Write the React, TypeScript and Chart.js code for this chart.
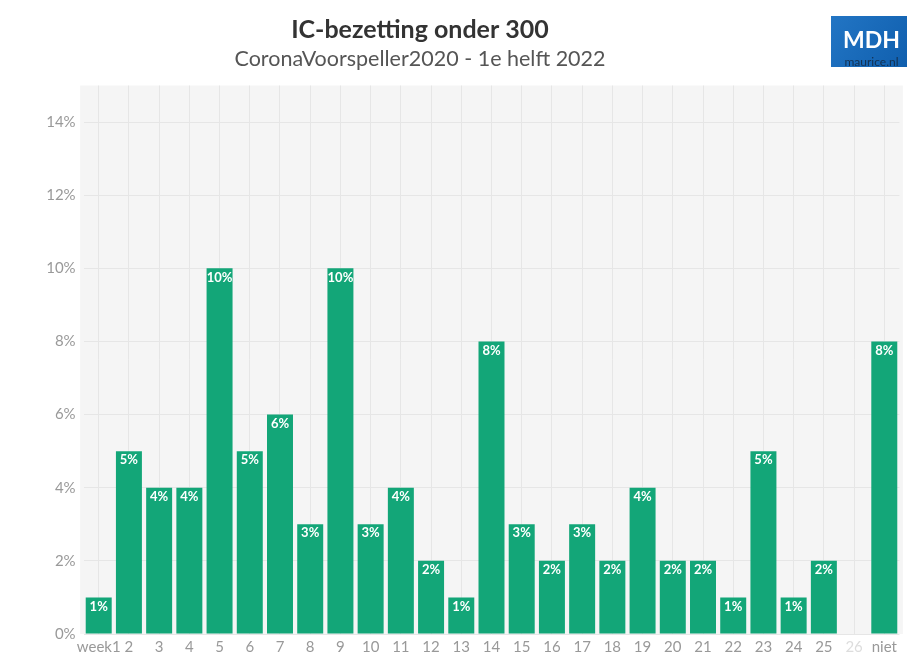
import React, { useEffect, useRef } from "react";
import { Chart, registerables } from "chart.js";

Chart.register(...registerables);

const categories: string[] = [
  "week1", "2", "3", "4", "5", "6", "7", "8", "9", "10", "11", "12", "13",
  "14", "15", "16", "17", "18", "19", "20", "21", "22", "23", "24", "25", "26", "niet",
];
const values: number[] = [
  1, 5, 4, 4, 10, 5, 6, 3, 10, 3, 4, 2, 1, 8, 3, 2, 3, 2, 4, 2, 2, 1, 5, 1, 2, 0, 8,
];
const titleText = "IC-bezetting onder 300";
const subtitleText = "CoronaVoorspeller2020 - 1e helft 2022";
const logoMain = "MDH";
const logoSub = "maurice.nl";

const FONT = "Lato, 'Source Sans Pro', 'Noto Sans', sans-serif";
const BAR = "#13a678";

const decorPlugin = {
  id: "decor",
  beforeDraw(chart: any) {
    const { ctx, chartArea } = chart;
    ctx.save();
    ctx.fillStyle = "#f5f5f5";
    ctx.fillRect(chartArea.left - 3.5, chartArea.top, chartArea.right - chartArea.left + 7, chartArea.bottom - chartArea.top);
    ctx.restore();
  },
  afterDraw(chart: any) {
    const { ctx } = chart;
    ctx.save();
    ctx.textAlign = "center";
    ctx.textBaseline = "middle";
    ctx.fillStyle = "#333333";
    ctx.font = `bold 25px ${FONT}`;
    ctx.fillText(titleText, 420, 30);
    ctx.fillStyle = "#555555";
    ctx.font = `21.5px ${FONT}`;
    ctx.fillText(subtitleText, 420, 59);
    // logo
    const g = ctx.createLinearGradient(831, 16, 907, 67);
    g.addColorStop(0, "#2275c4");
    g.addColorStop(1, "#105fae");
    ctx.fillStyle = g;
    ctx.fillRect(831, 16, 76, 51);
    ctx.fillStyle = "#ffffff";
    ctx.font = `bold 23px ${FONT}`;
    ctx.fillText(logoMain, 871.5, 41);
    ctx.fillStyle = "#14304f";
    ctx.font = `12px ${FONT}`;
    ctx.fillText(logoSub, 871.5, 62);
    ctx.restore();
  },
  afterDatasetsDraw(chart: any) {
    const { ctx } = chart;
    const meta = chart.getDatasetMeta(0);
    ctx.save();
    ctx.textAlign = "center";
    ctx.textBaseline = "middle";
    ctx.fillStyle = "#ffffff";
    ctx.font = `bold 13px ${FONT}`;
    meta.data.forEach((bar: any, i: number) => {
      const v = values[i];
      if (v > 0) ctx.fillText(`${v}%`, bar.x, bar.y + 9);
    });
    ctx.restore();
  },
};

export default function App() {
  const ref = useRef<HTMLCanvasElement | null>(null);
  useEffect(() => {
    if (!ref.current) return;
    const chart = new Chart(ref.current, {
      type: "bar",
      data: {
        labels: categories,
        datasets: [
          {
            data: values,
            backgroundColor: BAR,
            borderWidth: 0,
            barPercentage: 0.86,
            categoryPercentage: 1,
          },
        ],
      },
      options: {
        responsive: false,
        animation: false,
        layout: { padding: { top: 85.5, right: 19.6, left: 0, bottom: 0 } },
        plugins: { legend: { display: false }, tooltip: { enabled: false } },
        scales: {
          x: {
            offset: true,
            grid: { color: "#e6e6e6", offset: false, drawTicks: false },
            border: { display: false },
            ticks: {
              color: (c: any) => (categories[c.index] === "26" ? "#dddddd" : "#999999"),
              font: { family: FONT, size: 15 },
              padding: 4,
              autoSkip: false,
              maxRotation: 0,
            },
            afterFit: (s: any) => { s.height = 38; },
          },
          y: {
            min: 0,
            max: 15,
            grid: { color: "#e6e6e6", drawTicks: false },
            border: { display: false },
            ticks: {
              stepSize: 2,
              includeBounds: false,
              color: "#999999",
              font: { family: FONT, size: 15 },
              padding: 8,
              callback: (v: any) => `${v}%`,
            },
            afterFit: (s: any) => { s.width = 83.6; },
          },
        },
      },
      plugins: [decorPlugin],
    });
    return () => chart.destroy();
  }, []);
  return (
    <div style={{ position: "absolute", left: 0, top: 0, width: 919, height: 672, background: "#fff" }}>
      <canvas ref={ref} width={919} height={672} />
    </div>
  );
}
